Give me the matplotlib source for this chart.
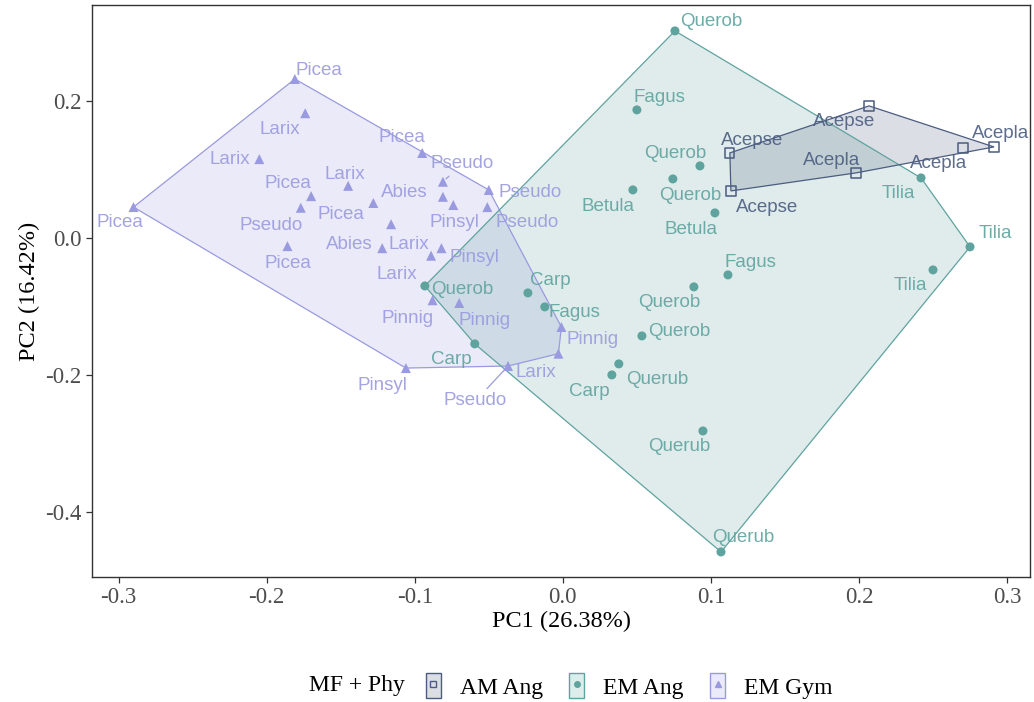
import matplotlib
matplotlib.use("Agg")
import matplotlib.pyplot as plt
import numpy as np
from matplotlib.patches import Polygon, Patch
from matplotlib.lines import Line2D
from matplotlib.legend_handler import HandlerTuple

# AM Ang (arbuscular mycorrhizal angiosperms)
am_x = [0.1128, 0.1135, 0.2068, 0.1980, 0.2703, 0.2912]
am_y = [0.1241, 0.0686, 0.1927, 0.0949, 0.1314, 0.1328]
am_lab = ["Acepse", "Acepse", "Acepse", "Acepla", "Acepla", "Acepla"]
am_lx = [0.1277, 0.1378, 0.1899, 0.1818, 0.2541, 0.2959]
am_ly = [0.1416, 0.0438, 0.1693, 0.1124, 0.1080, 0.1518]

# EM Ang
ema_x = [0.0757, 0.0500, 0.0926, 0.0473, 0.0743, 0.1027, 0.1115, 0.0885, 0.0534, 0.0378,
         0.0331, 0.0946, 0.1068, 0.2419, 0.2750, 0.2500, -0.0932, -0.0236, -0.0122, -0.0595]
ema_y = [0.3022, 0.1869, 0.1051, 0.0701, 0.0861, 0.0365, -0.0540, -0.0715, -0.1431, -0.1839,
         -0.2000, -0.2818, -0.4584, 0.0876, -0.0131, -0.0467, -0.0701, -0.0803, -0.1007, -0.1547]
ema_lab = ["Querob", "Fagus", "Querob", "Betula", "Querob", "Betula", "Fagus", "Querob", "Querob", "Querub",
           "Carp", "Querub", "Querub", "Tilia", "Tilia", "Tilia", "Querob", "Carp", "Fagus", "Carp"]
ema_lx = [0.1000, 0.0649, 0.0757, 0.0304, 0.0858, 0.0865, 0.1270, 0.0716, 0.0784, 0.0635,
          0.0182, 0.0784, 0.1216, 0.2264, 0.2919, 0.2345, -0.0682, -0.0088, 0.0081, -0.0750]
ema_ly = [0.3153, 0.2044, 0.1226, 0.0453, 0.0613, 0.0117, -0.0365, -0.0949, -0.1372, -0.2073,
          -0.2248, -0.3051, -0.4380, 0.0642, 0.0058, -0.0701, -0.0759, -0.0628, -0.1095, -0.1781]

# EM Gym
emg_x = [-0.181, -0.174, -0.205, -0.290, -0.170, -0.177, -0.186, -0.145, -0.128, -0.116,
         -0.122, -0.082, -0.089, -0.095, -0.081, -0.081, -0.074, -0.050, -0.051, -0.088,
         -0.070, -0.106, -0.037, -0.003, -0.001]
emg_y = [0.232, 0.182, 0.115, 0.045, 0.061, 0.044, -0.012, 0.076, 0.051, 0.020,
         -0.015, -0.015, -0.026, 0.124, 0.082, 0.060, 0.048, 0.070, 0.045, -0.091,
         -0.095, -0.190, -0.187, -0.169, -0.130]
emg_lab = ["Picea", "Larix", "Larix", "Picea", "Picea", "Pseudo", "Picea", "Larix", "Picea", "Abies",
           "Abies", "Larix", "Larix", "Picea", "Pseudo", "Pinsyl", "Pinsyl", "Pseudo", "Pseudo", "Pinnig",
           "Pinnig", "Pinsyl", "Pseudo", "Larix", "Pinnig"]
emg_lx = [-0.165, -0.191, -0.225, -0.299, -0.186, -0.197, -0.186, -0.147, -0.150, -0.107,
          -0.144, -0.104, -0.112, -0.109, -0.068, -0.073, -0.060, -0.022, -0.024, -0.105,
          -0.053, -0.122, -0.059, -0.018, 0.020]
emg_ly = [0.245, 0.158, 0.115, 0.022, 0.080, 0.018, -0.038, 0.092, 0.034, 0.066,
          -0.010, -0.010, -0.053, 0.147, 0.108, 0.023, -0.028, 0.066, 0.023, -0.117,
          -0.121, -0.215, -0.238, -0.197, -0.149]
emg_seg = [14, 22]  # labels pushed away from their point -> connector line

groups = [
    ("AM Ang", am_x, am_y, am_lab, am_lx, am_ly, [], "#4B5C80", "s", "none"),
    ("EM Ang", ema_x, ema_y, ema_lab, ema_lx, ema_ly, [], "#5FA39E", "o", None),
    ("EM Gym", emg_x, emg_y, emg_lab, emg_lx, emg_ly, emg_seg, "#9A9AE0", "^", None),
]


def hull(xs, ys):
    pts = sorted(set(zip(xs, ys)))

    def cross(o, a, b):
        return (a[0] - o[0]) * (b[1] - o[1]) - (a[1] - o[1]) * (b[0] - o[0])

    lower, upper = [], []
    for p in pts:
        while len(lower) >= 2 and cross(lower[-2], lower[-1], p) <= 0:
            lower.pop()
        lower.append(p)
    for p in reversed(pts):
        while len(upper) >= 2 and cross(upper[-2], upper[-1], p) <= 0:
            upper.pop()
        upper.append(p)
    return lower[:-1] + upper[:-1]


serif = "Liberation Serif"
fig = plt.figure(figsize=(10.34, 7.02), dpi=100)
ax = fig.add_axes([92 / 1034, 1 - 577 / 702, (1030 - 92) / 1034, (577 - 5) / 702])

# hulls first (gym at bottom, AM on top)
for name, xs, ys, lab, lx, ly, seg, col, mk, mfc in [groups[2], groups[1], groups[0]]:
    poly = Polygon(hull(xs, ys), closed=True, facecolor=col, alpha=0.2, edgecolor="none", zorder=1)
    ax.add_patch(poly)
    edge = Polygon(hull(xs, ys), closed=True, facecolor="none", edgecolor=col, lw=0.9, zorder=2)
    ax.add_patch(edge)

for name, xs, ys, lab, lx, ly, seg, col, mk, mfc in [groups[2], groups[1], groups[0]]:
    if mk == "s":
        ax.scatter(xs, ys, marker="s", s=44, facecolors="none", edgecolors=col, linewidths=1.1, zorder=4)
    else:
        ax.scatter(xs, ys, marker=mk, s=52 if mk == "^" else 42, color=col, edgecolors="none", zorder=4)
    for i in range(len(xs)):
        if i in seg:
            ax.annotate(lab[i], xy=(xs[i], ys[i]), xytext=(lx[i], ly[i]), ha="center", va="center",
                        fontsize=13.5, color=col, alpha=0.9, family="Liberation Sans", zorder=5,
                        arrowprops=dict(arrowstyle="-", color=col, lw=0.9, shrinkA=1, shrinkB=3))
        else:
            ax.text(lx[i], ly[i], lab[i], ha="center", va="center", fontsize=13.5, color=col,
                    alpha=0.9, family="Liberation Sans", zorder=5)

ax.set_xlim(-0.318, 0.3155)
ax.set_ylim(-0.495, 0.340)
ax.set_xticks([-0.3, -0.2, -0.1, 0.0, 0.1, 0.2, 0.3])
ax.set_xticklabels(["-0.3", "-0.2", "-0.1", "0.0", "0.1", "0.2", "0.3"])
ax.set_yticks([-0.4, -0.2, 0.0, 0.2])
ax.set_yticklabels(["-0.4", "-0.2", "0.0", "0.2"])
ax.tick_params(length=4, width=0.9, color="#333333", labelsize=16.5, labelcolor="#4D4D4D")
for t in ax.get_xticklabels() + ax.get_yticklabels():
    t.set_family(serif)
for s in ax.spines.values():
    s.set_color("#333333")
    s.set_linewidth(1.0)
ax.set_xlabel("PC1 (26.38%)", family=serif, fontsize=17.5, labelpad=2)
ax.set_ylabel("PC2 (16.42%)", family=serif, fontsize=17.5, labelpad=4)

handles = []
for name, xs, ys, lab, lx, ly, seg, col, mk, mfc in groups:
    p = Patch(facecolor=col, alpha=0.2, edgecolor="none")
    e = Patch(facecolor="none", edgecolor=col, lw=1.0)
    m = Line2D([], [], ls="none", marker=mk, markersize=4, color=col, markerfacecolor=mfc if mfc else col)
    handles.append((p, e, m))

fig.text(405 / 1034, 1 - 686 / 702, "MF + Phy", ha="right", va="center", family=serif, fontsize=17)
fig.legend(handles, [g[0] for g in groups], handler_map={tuple: HandlerTuple(ndivide=1, pad=0)},
           loc="center left", bbox_to_anchor=(414 / 1034, 1 - 686 / 702), ncol=3, frameon=False,
           prop={"family": serif, "size": 17}, handlelength=0.65, handleheight=1.2,
           handletextpad=0.8, columnspacing=1.1, borderpad=0)

fig.savefig("out.png", dpi=100)
